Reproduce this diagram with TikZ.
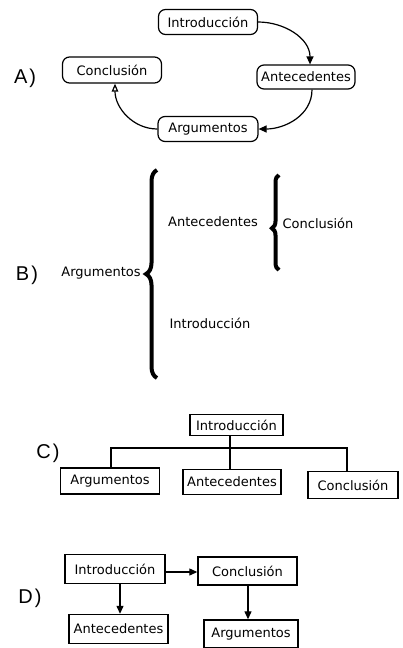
\documentclass[tikz,border=0pt]{standalone}
\usepackage{fontspec}
\setmainfont{DejaVu Sans}
\newfontfamily\labelfont{Liberation Sans}
\usetikzlibrary{arrows.meta,decorations.pathreplacing}
\begin{document}
\begin{tikzpicture}[x=1pt,y=-1pt,
  txt/.style={font=\fontsize{13}{15}\selectfont, inner sep=0pt},
  rbox/.style={txt, draw, line width=1.2pt, rounded corners=7pt, minimum width=99pt, minimum height=24pt},
  sbox/.style={txt, draw, line width=1.4pt, minimum height=26pt},
  lab/.style={font=\labelfont\fontsize{20}{22}\selectfont, inner sep=0pt},
  conn/.style={line width=1.2pt},
  fa/.style={conn, -{Triangle[length=8pt,width=7pt]}},
  oa/.style={conn, -{Triangle[open,length=8pt,width=6.5pt]}},
  brc/.style 2 args={decorate, decoration={brace, amplitude=#1, aspect=#2}, line width=4pt},
]
\useasboundingbox[fill=white] (0,0) rectangle (403,648);

% ---------- A ----------
\node[lab] (la) at (25,78) {A\hspace{2pt})};
\node[rbox, minimum height=25pt] (aintro) at (208,22) {Introducción};
\node[rbox, minimum width=98pt] (aante) at (306,77) {Antecedentes};
\node[rbox, minimum height=26pt] (aconc) at (112,70) {Conclusión};
\node[rbox, minimum width=100pt, minimum height=25pt] (aargu) at (208,129) {Argumentos};
\draw[fa] (aintro.east) to[out=0,in=90] ([xshift=4pt]aante.north);
\draw[fa] ([xshift=6pt]aante.south) to[out=-90,in=0] (aargu.east);
\draw[oa] (aargu.west) to[out=180,in=-90] ([xshift=3pt]aconc.south);

% ---------- B ----------
\node[lab] (lb) at (27,275) {B\hspace{2pt})};
\node[txt] (bargu) at (101,273) {Argumentos};
\node[txt] (bante) at (213,222) {Antecedentes};
\node[txt] (bintro) at (210,323) {Introducción};
\node[txt] (bconc) at (318,223) {Conclusión};
\coordinate (bb1) at (157,378);
\coordinate (bb2) at (157,170);
\coordinate (sb1) at (279,270);
\coordinate (sb2) at (279,175);
\draw[brc={11pt}{0.5}] (bb1) -- (bb2);
\draw[brc={7pt}{0.44}] (sb1) -- (sb2);

% ---------- C ----------
\node[lab] (lc) at (48,453) {C\hspace{2pt})};
\node[sbox, minimum width=93pt, minimum height=21pt] (cintro) at (236.5,425) {Introducción};
\node[sbox, minimum width=99pt, minimum height=26pt] (cargu) at (110,481) {Argumentos};
\node[sbox, minimum width=98pt, minimum height=25pt] (cante) at (232,482) {Antecedentes};
\node[sbox, minimum width=90pt, minimum height=27pt] (cconc) at (353,485) {Conclusión};
\coordinate (bar) at (0,448);
\draw[conn] ([xshift=1pt]cargu.north) |- ([xshift=-6pt]cconc.north |- bar) -- ([xshift=-6pt]cconc.north);
\draw[conn] (cante.north -| 230,0) -- (cintro.south -| 230,0);

% ---------- D ----------
\node[lab] (ld) at (30,598) {D\hspace{2pt})};
\node[sbox, minimum width=100pt, minimum height=29pt] (dintro) at (115,569) {Introducción};
\node[sbox, minimum width=99pt, minimum height=28pt] (dconc) at (247.5,571) {Conclusión};
\node[sbox, minimum width=99pt, minimum height=29pt] (dante) at (118.5,629) {Antecedentes};
\node[sbox, minimum width=94pt, minimum height=28pt] (dargu) at (251,634) {Argumentos};
\draw[fa] (dintro.east |- 0,572) -- (dconc.west |- 0,572);
\draw[fa] (dintro.south -| 120,0) -- (dante.north -| 120,0);
\draw[fa] (dconc.south -| 248,0) -- (dargu.north -| 248,0);
\end{tikzpicture}
\end{document}
